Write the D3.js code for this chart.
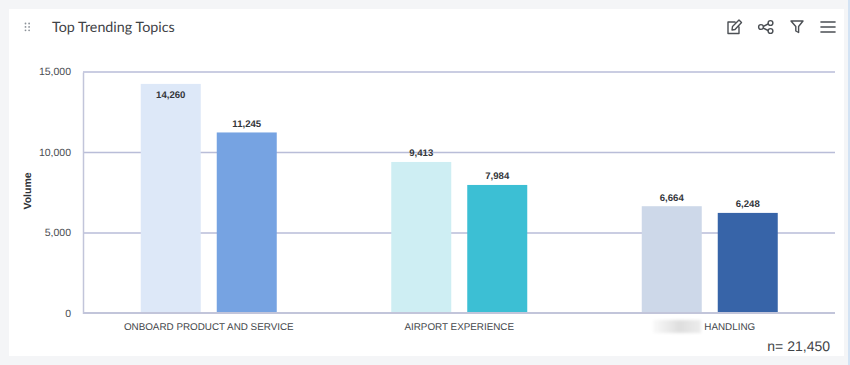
<!DOCTYPE html>
<html><head><meta charset="utf-8">
<script src="https://cdn.jsdelivr.net/npm/d3@7/dist/d3.min.js"></script>
<style>
html,body{margin:0;padding:0;background:#f4f5f7;overflow:hidden}
svg{display:block}
text{font-family:"Liberation Sans",Arial,sans-serif;text-rendering:geometricPrecision}
</style></head><body>
<svg id="c" width="850" height="365"></svg>
<script>
const categories=["ONBOARD PRODUCT AND SERVICE","AIRPORT EXPERIENCE","HANDLING"];
const seriesA=[14260,9413,6664];
const seriesB=[11245,7984,6248];
const colorsA=["#dde8f8","#ceeef3","#cdd8e9"];
const colorsB=["#76a3e2","#3cbfd4","#3764a8"];
const yTicks=[0,5000,10000,15000];
const titleText="Top Trending Topics";
const yTitle="Volume";
const nLabel="n= 21,450";

const svg=d3.select("#c");
const defs=svg.append("defs");
const blur=defs.append("filter").attr("id","blur").attr("x","-20%").attr("y","-40%").attr("width","140%").attr("height","180%");
blur.append("feGaussianBlur").attr("stdDeviation",1.8);
const grad=defs.append("linearGradient").attr("id","fade");
grad.append("stop").attr("offset","0").attr("stop-color","#fafafa");
grad.append("stop").attr("offset","0.55").attr("stop-color","#dedede");
grad.append("stop").attr("offset","1").attr("stop-color","#ececec");

svg.append("rect").attr("x",9).attr("y",9).attr("width",835).attr("height",347).attr("fill","#fff");
svg.append("rect").attr("x",848).attr("y",0).attr("width",2).attr("height",365).attr("fill","#d3e3f4");

// drag handle
const dots=d3.range(3).flatMap(r=>d3.range(2).map(c=>[c,r]));
svg.append("g").selectAll("circle").data(dots).join("circle")
 .attr("cx",d=>25.5+d[0]*3.6).attr("cy",d=>23.5+d[1]*3.4).attr("r",0.9).attr("fill","#8c9299");

svg.append("text").attr("x",52).attr("y",32).attr("font-size",14.3).style("font-family","Lato,'Liberation Sans',sans-serif").attr("fill","#3f4347").text(titleText);

const x0=d3.scaleBand().domain(categories).range([83.5,835]).paddingInner(0).paddingOuter(0);
const y=d3.scaleLinear().domain([0,15000]).range([313.5,72]);

// grid
svg.append("g").selectAll("line").data(yTicks.filter(d=>d>0)).join("line")
 .attr("x1",83).attr("x2",835).attr("y1",d=>y(d)).attr("y2",d=>y(d))
 .attr("stroke","#b9bdd8").attr("stroke-width",1.5);

// y axis line + labels
const yAxis=d3.axisLeft(y).tickValues(yTicks).tickSize(0).tickPadding(12).tickFormat(d3.format(","));
const gy=svg.append("g").attr("transform","translate(83,0)").call(yAxis);
gy.select(".domain").attr("stroke","#c2c5da").attr("stroke-width",1.5);
gy.selectAll("text").attr("font-size",10.5).attr("fill","#4a4d52").attr("transform","translate(0,-0.7)");

svg.append("text").attr("transform","translate(31,191) rotate(-90)").attr("text-anchor","middle")
 .attr("font-size",10.5).attr("font-weight","bold").attr("fill","#2f3236").text(yTitle);

const barW=60, gap=16;
const cx=c=>x0(c)+x0.bandwidth()/2;
const groups=[
 {vals:seriesA,cols:colorsA,off:-(barW+gap/2)},
 {vals:seriesB,cols:colorsB,off:gap/2}
];
groups.forEach(s=>{
 svg.append("g").selectAll("rect").data(categories).join("rect")
  .attr("x",(c)=>cx(c)+s.off).attr("width",barW)
  .attr("y",(c,i)=>y(s.vals[i])).attr("height",(c,i)=>y(0)-y(s.vals[i]))
  .attr("fill",(c,i)=>s.cols[i]);
 svg.append("g").selectAll("text").data(categories).join("text")
  .attr("x",(c)=>cx(c)+s.off+barW/2)
  .attr("y",(c,i)=>{const t=y(s.vals[i]);return t<90?t+14:t-5.5;})
  .attr("text-anchor","middle").attr("font-size",9.6).attr("font-weight","bold").attr("fill","#33363a")
  .text((c,i)=>d3.format(",")(s.vals[i]));
});

// x axis baseline
svg.append("line").attr("x1",83).attr("x2",835).attr("y1",313).attr("y2",313).attr("stroke","#c2c5da").attr("stroke-width",2);

// x labels
const labelShift=[0,0,20];
svg.append("g").selectAll("text").data(categories).join("text")
 .attr("x",(c,i)=>cx(c)+labelShift[i]).attr("y",330).attr("text-anchor","middle")
 .attr("font-size",9.85).attr("fill","#44474b").text(d=>d);

// masked part of the third label
svg.append("rect").attr("x",653).attr("y",320).attr("width",48).attr("height",13).attr("fill","url(#fade)").attr("filter","url(#blur)");

svg.append("text").attr("x",830).attr("y",351).attr("text-anchor","end").attr("font-size",14).attr("fill","#3f4347").text(nLabel);

// toolbar icons
const ic=svg.append("g").attr("fill","none").attr("stroke","#4b4f54").attr("stroke-width",1.4).attr("stroke-linecap","round").attr("stroke-linejoin","round");
ic.append("path").attr("d","M735 22H728V33.5H739V27M732 30L732.5 26.5L739 20L741.5 22.5L735 29.5Z");
ic.append("path").attr("d","M762 27L769 23.5M762 27.5L769 31");
[[761,27],[770.5,23],[770.5,31]].forEach(p=>ic.append("circle").attr("cx",p[0]).attr("cy",p[1]).attr("r",2.4).attr("fill","#fff"));
ic.append("path").attr("d","M791 21H803L798.6 26.5V32.5L795.8 31V26.5Z");
[22,27,32].forEach(v=>ic.append("line").attr("x1",821).attr("x2",835).attr("y1",v).attr("y2",v).attr("stroke-width",1.6));
</script>
</body></html>
